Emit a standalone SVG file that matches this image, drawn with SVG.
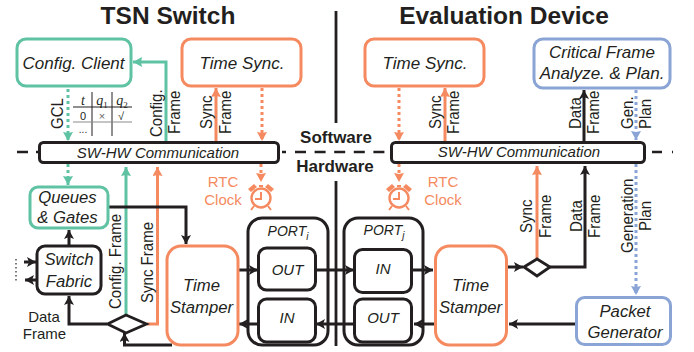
<svg xmlns="http://www.w3.org/2000/svg" width="694" height="352" viewBox="0 0 694 352">
<style>
text{font-family:"Liberation Sans",Arial,sans-serif;fill:#231f20}
.i{font-style:italic}.m{text-anchor:middle}
.t{font-size:24.5px;font-weight:bold}
.h{font-size:17px;font-weight:bold}
.a{font-size:17px}.n{font-size:16.7px}.s{font-size:15px}.c{font-size:15px}
.box{fill:#fff;stroke-width:3}
.k{stroke:#231f20}.gr{stroke:#5fc3a3}.or{stroke:#f58a60}.bl{stroke:#8aa4d6}
.w{fill:none;stroke-width:3}
.d{fill:none;stroke-width:3;stroke-dasharray:3 3}
.tb{stroke:#231f20;stroke-width:1;fill:none}
.ser{font-family:"Liberation Serif",serif;font-size:14px;font-style:italic}
.p{fill:none;stroke:#231f20;stroke-width:3}
.r{font-size:16px}
</style>
<defs>
<marker id="ak" markerUnits="userSpaceOnUse" markerWidth="10" markerHeight="10" refX="9" refY="5" orient="auto"><path d="M0 0L9 5L0 10L2 5Z" fill="#231f20"/></marker>
<marker id="ag" markerUnits="userSpaceOnUse" markerWidth="10" markerHeight="10" refX="9" refY="5" orient="auto"><path d="M0 0L9 5L0 10L1 5Z" fill="#5fc3a3"/></marker>
<marker id="ao" markerUnits="userSpaceOnUse" markerWidth="10" markerHeight="10" refX="9" refY="5" orient="auto"><path d="M0 0L9 5L0 10L1 5Z" fill="#f58a60"/></marker>
<marker id="ab" markerUnits="userSpaceOnUse" markerWidth="10" markerHeight="10" refX="9" refY="5" orient="auto"><path d="M0 0L9 5L0 10L1 5Z" fill="#8aa4d6"/></marker>
<symbol id="clock" viewBox="0 0 30 30" overflow="visible">
<circle cx="13" cy="15" r="9.5" fill="none" stroke="#f58a60" stroke-width="2.4"/>
<path d="M13 9V16H7M6 23L3 27M20 23L23 27" fill="none" stroke="#f58a60" stroke-width="2"/>
<path d="M0 6L6 1L9 4L3 9ZM26 6L20 1L17 4L23 9Z" fill="#f58a60"/>
<path d="M11 3H15" stroke="#f58a60" stroke-width="2"/>
</symbol>
</defs>

<text class="t m" x="168" y="24">TSN Switch</text>
<text class="t m" x="504" y="24">Evaluation Device</text>
<path d="M336 11V123M336 181V346" fill="none" stroke="#231f20" stroke-width="2.8"/>
<path d="M17 152H28M36 152H38M282 152H286" fill="none" stroke="#231f20" stroke-width="2.6"/>
<path d="M295 152H387" fill="none" stroke="#231f20" stroke-width="2.6" stroke-dasharray="11 8.6"/>
<path d="M652 152H662M672 152H673" fill="none" stroke="#231f20" stroke-width="2.6"/>
<text class="h m" x="336" y="143">Software</text>
<text class="h m" x="335" y="172">Hardware</text>

<g id="connectors">
<path class="d gr" d="M68 89V141" marker-end="url(#ag)"/>
<path class="w gr" d="M166 141V62H133" marker-end="url(#ag)"/>
<path class="w or" d="M216 141V88" marker-end="url(#ao)"/>
<path class="d or" d="M262 88V141" marker-end="url(#ao)"/>
<path class="d or" d="M399 88V141" marker-end="url(#ao)"/>
<path class="w or" d="M445 141V88" marker-end="url(#ao)"/>
<path class="w k" d="M584 141V90" marker-end="url(#ak)"/>
<path class="d bl" d="M636 90V140" marker-end="url(#ab)"/>
<path class="d gr" d="M68 164V185" marker-end="url(#ag)"/>
<path class="w gr" d="M126 316V167" marker-end="url(#ag)"/>
<path class="w or" d="M147 324H157.500V167" marker-end="url(#ao)"/>
<path class="d or" d="M261 164V182" marker-end="url(#ao)"/>
<path class="d or" d="M399 164V182" marker-end="url(#ao)"/>
<path class="w or" d="M537 258V166" marker-end="url(#ao)"/>
<path class="w k" d="M550 267H585V166" marker-end="url(#ak)"/>
<path class="d bl" d="M636 164V295" marker-end="url(#ab)"/>
<path class="w k" d="M109 207H186V244" marker-end="url(#ak)"/>
<path class="w k" d="M69 246V230" marker-end="url(#ak)"/>
<path class="w k" d="M107 324H69V296" marker-end="url(#ak)"/>
<path class="w k" d="M172 345H124.500V333" marker-end="url(#ak)"/>
<path class="w k" d="M24 262H36" marker-end="url(#ak)"/>
<path class="w k" d="M36 280H25" marker-end="url(#ak)"/>
<path d="M16 259V283" fill="none" stroke="#231f20" stroke-width="1.2" stroke-dasharray="1.5 2.5"/>
<path class="w k" d="M238 270H258" marker-end="url(#ak)"/>
<path class="w k" d="M316 270H354" marker-end="url(#ak)"/>
<path class="w k" d="M412 270H433" marker-end="url(#ak)"/>
<path class="w k" d="M508 267H523" marker-end="url(#ak)"/>
<path class="w k" d="M576 324H509" marker-end="url(#ak)"/>
<path class="w k" d="M435 324H414" marker-end="url(#ak)"/>
<path class="w k" d="M354 324H316" marker-end="url(#ak)"/>
<path class="w k" d="M258 324H239" marker-end="url(#ak)"/>
</g>

<g id="config-client"><rect class="box gr" x="17" y="39" width="114" height="47" rx="9"/><text class="a i m" x="73.500" y="68.500">Config. Client</text></g>
<g id="time-sync-l"><rect class="box or" x="182" y="39" width="119" height="47" rx="9"/><text class="a i m" x="242" y="68.500">Time Sync.</text></g>
<g id="time-sync-r"><rect class="box or" x="365" y="39" width="119" height="47" rx="9"/><text class="a i m" x="425" y="68.500">Time Sync.</text></g>
<g id="critical"><rect class="box bl" x="534" y="39" width="136" height="49" rx="9"/><text class="a i m" x="602" y="58">Critical Frame</text><text class="a i m" x="602" y="79">Analyze. &amp; Plan.</text></g>

<g id="gcl-table">
<path class="tb" d="M73 107H132M92 92V136M112 92V136"/>
<path d="M73 122H132" stroke="#8a8a8a" stroke-width="1" fill="none"/>
<text class="ser m" x="83" y="105">t</text>
<text class="ser m" x="102" y="105">q<tspan dy="3" font-size="9" font-style="normal">1</tspan></text>
<text class="ser m" x="122" y="105">q<tspan dy="3" font-size="9" font-style="normal">2</tspan></text>
<text class="m" x="83" y="120" style="font-size:11px">0</text>
<text class="m" x="102" y="120" style="font-size:11px;fill:#666">×</text>
<text class="m" x="121" y="120" style="font-size:11px">√</text>
<text class="m" x="83" y="133" style="font-size:10px">...</text>
</g>

<g id="swhw-l"><rect class="box k" x="39.500" y="142.500" width="239" height="20" rx="4"/><text class="c i m" x="158" y="157.500">SW-HW Communication</text></g>
<g id="swhw-r"><rect class="box k" x="391.500" y="142.500" width="253" height="20" rx="4"/><text class="c i m" x="519" y="157">SW-HW Communication</text></g>

<g id="queues"><rect class="box gr" x="30" y="187" width="78" height="41" rx="8"/><text class="n i m" x="67.500" y="203">Queues</text><text class="n i m" x="67.500" y="223">&amp; Gates</text></g>
<g id="fabric"><rect class="box k" x="37" y="246" width="64" height="48" rx="8"/><text class="n i m" x="69" y="265">Switch</text><text class="n i m" x="69" y="287">Fabric</text></g>
<g id="stamper-l"><rect class="box or" x="167" y="246" width="71" height="99" rx="14"/><text class="n i m" x="201.500" y="291">Time</text><text class="n i m" x="201.500" y="313">Stamper</text></g>
<g id="port-i"><rect class="p" x="248" y="218" width="80" height="127" rx="14"/><text class="i m" x="288" y="236" style="font-size:14px">PORT<tspan dy="4" font-size="10">i</tspan></text>
<rect class="box k" x="258.500" y="248" width="57" height="42" rx="8"/><text class="c i m" x="287.500" y="275">OUT</text>
<rect class="box k" x="258.500" y="299" width="57" height="43" rx="8"/><text class="c i m" x="287" y="323">IN</text></g>
<g id="port-j"><rect class="p" x="344" y="218" width="79" height="127" rx="14"/><text class="i m" x="384" y="235" style="font-size:14px">PORT<tspan dy="4" font-size="10">j</tspan></text>
<rect class="box k" x="354.500" y="249.500" width="57" height="43" rx="8"/><text class="c i m" x="383" y="274">IN</text>
<rect class="box k" x="354.500" y="299" width="57" height="43" rx="8"/><text class="c i m" x="383" y="323">OUT</text></g>
<g id="stamper-r"><rect class="box or" x="435.500" y="246" width="71" height="99" rx="14"/><text class="n i m" x="470.500" y="291">Time</text><text class="n i m" x="470.500" y="313">Stamper</text></g>
<g id="generator"><rect class="box bl" x="576.500" y="297.500" width="94" height="47" rx="8"/><text class="n i m" x="625" y="317">Packet</text><text class="n i m" x="625" y="338">Generator</text></g>

<g id="switch-l"><path d="M107.500 324L126 315L146.500 324L126 333Z" fill="#fff" stroke="#231f20" stroke-width="2.8"/></g>
<g id="switch-r"><path d="M524 267L537 259L550 267L537 276Z" fill="#fff" stroke="#231f20" stroke-width="2.8"/></g>

<g id="clock-l"><use href="#clock" x="248" y="183" width="30" height="30"/></g>
<g id="clock-r"><use href="#clock" x="386" y="183" width="30" height="30"/></g>
<text class="s m" x="223" y="187" style="fill:#f58a60">RTC</text>
<text class="s m" x="223" y="205" style="fill:#f58a60">Clock</text>
<text class="s m" x="443" y="187" style="fill:#f58a60">RTC</text>
<text class="s m" x="443" y="205" style="fill:#f58a60">Clock</text>

<g class="r">
<text transform="translate(63 129) rotate(-90) scale(.94 1)">GCL</text>
<text transform="translate(162 137) rotate(-90) scale(.94 1)">Config.</text>
<text transform="translate(180 134) rotate(-90) scale(.94 1)">Frame</text>
<text transform="translate(212 129) rotate(-90) scale(.94 1)">Sync</text>
<text transform="translate(230.500 134) rotate(-90) scale(.94 1)">Frame</text>
<text transform="translate(440.500 129) rotate(-90) scale(.94 1)">Sync</text>
<text transform="translate(458.500 134) rotate(-90) scale(.94 1)">Frame</text>
<text transform="translate(581 129) rotate(-90) scale(.94 1)">Data</text>
<text transform="translate(599 134) rotate(-90) scale(.94 1)">Frame</text>
<text transform="translate(633 129) rotate(-90) scale(.94 1)">Gen.</text>
<text transform="translate(651 129) rotate(-90) scale(.94 1)">Plan</text>
<text transform="translate(121 309) rotate(-90) scale(.94 1)">Config. Frame</text>
<text transform="translate(152.500 303) rotate(-90) scale(.94 1)">Sync Frame</text>
<text transform="translate(532 233) rotate(-90) scale(.94 1)">Sync</text>
<text transform="translate(551 238) rotate(-90) scale(.94 1)">Frame</text>
<text transform="translate(581.500 232) rotate(-90) scale(.94 1)">Data</text>
<text transform="translate(600 238) rotate(-90) scale(.94 1)">Frame</text>
<text transform="translate(633 253) rotate(-90) scale(.94 1)">Generation</text>
<text transform="translate(651 231) rotate(-90) scale(.94 1)">Plan</text>
</g>
<g class="s">
<text class="m" x="44" y="322">Data</text>
<text class="m" x="44.500" y="339">Frame</text>
</g>
</svg>
